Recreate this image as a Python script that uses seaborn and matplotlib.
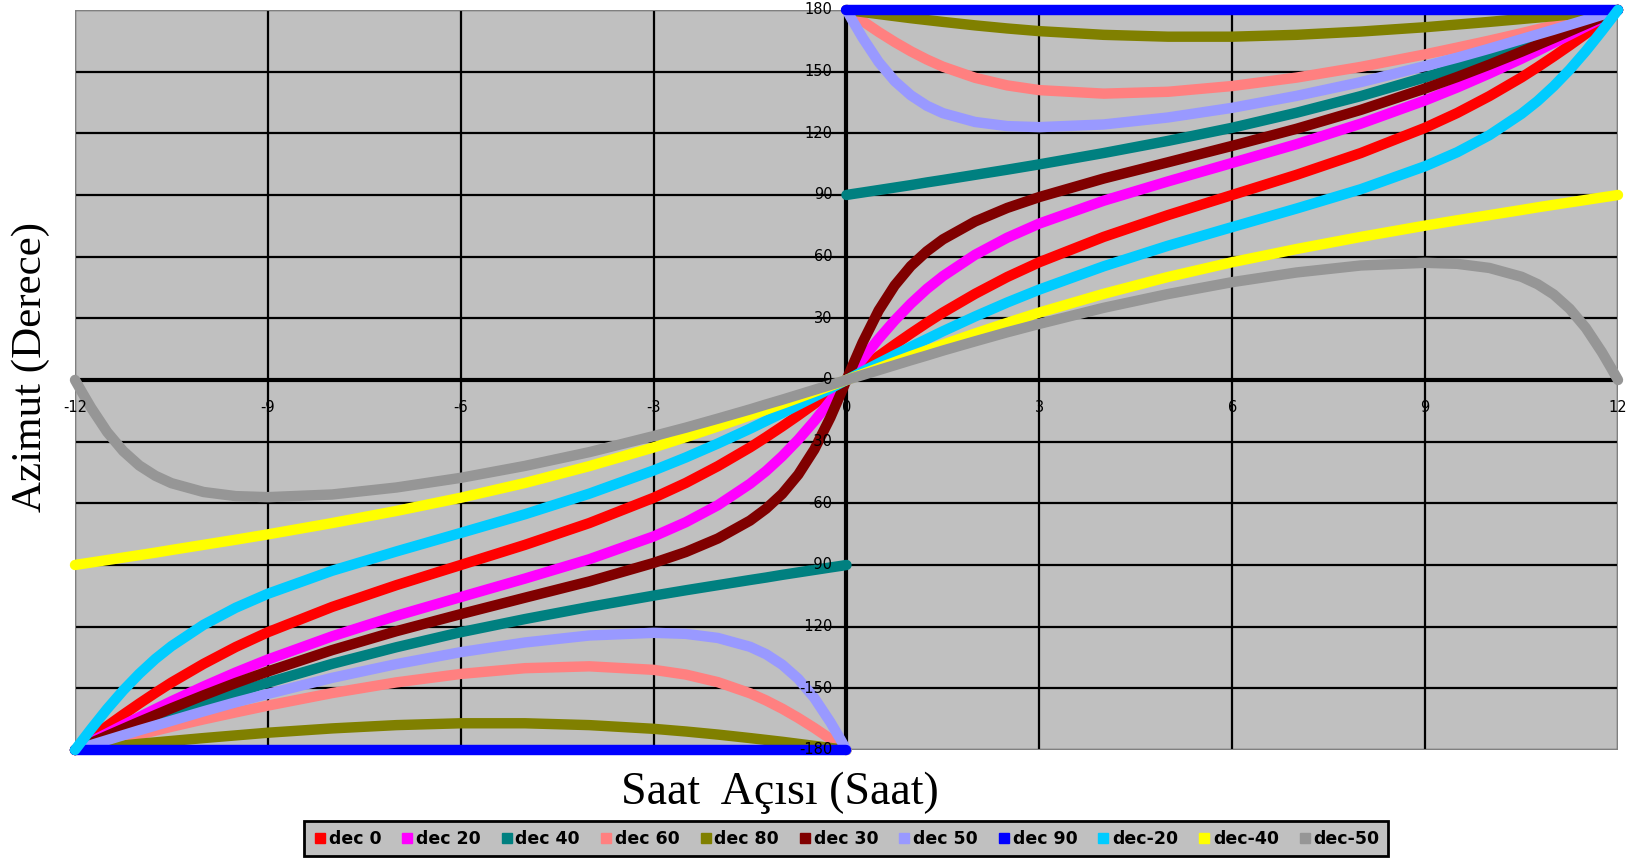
import numpy as np
import pandas as pd
import matplotlib
matplotlib.use("Agg")
import matplotlib.pyplot as plt
from matplotlib.lines import Line2D
from matplotlib.patches import Rectangle
import seaborn as sns

# saat acisi (saat) - bati / dogu yarisi
hours_west = [-12, -11.9, -11.75, -11.5, -11.25, -11, -10.75, -10.5, -10, -9.5, -9, -8, -7, -6,
              -5, -4, -3, -2.5, -2, -1.5, -1.25, -1, -0.75, -0.5, -0.25, -0.1, 0]
hours_east = [0, 0.1, 0.25, 0.5, 0.75, 1, 1.25, 1.5, 2, 2.5, 3, 4, 5, 6,
              7, 8, 9, 9.5, 10, 10.5, 10.75, 11, 11.25, 11.5, 11.75, 11.9, 12]
hours_pole_west = [-12, 0]
hours_pole_east = [0, 12]

# azimut (derece)
dec0_west = [-180, -177.7, -174.2, -168.4, -162.8, -157.4, -152.2, -147.2, -138.1, -129.9, -122.7, -110.4, -99.8, -90,
             -80.2, -69.6, -57.3, -50.1, -41.9, -32.8, -27.8, -22.6, -17.2, -11.6, -5.8, -2.3, 0]
dec0_east = [0, 2.3, 5.8, 11.6, 17.2, 22.6, 27.8, 32.8, 41.9, 50.1, 57.3, 69.6, 80.2, 90,
             99.8, 110.4, 122.7, 129.9, 138.1, 147.2, 152.2, 157.4, 162.8, 168.4, 174.2, 177.7, 180]

dec20_west = [-180, -178.4, -175.9, -171.9, -167.9, -164.0, -160.1, -156.3, -149.1, -142.3, -136.0, -124.7, -114.7, -105.6,
              -96.6, -87.2, -76.1, -69.2, -60.9, -50.5, -44.3, -37.1, -29.0, -20.0, -10.2, -4.1, 0]
dec20_east = [0, 4.1, 10.2, 20.0, 29.0, 37.1, 44.3, 50.5, 60.9, 69.2, 76.1, 87.2, 96.6, 105.6,
              114.7, 124.7, 136.0, 142.3, 149.1, 156.3, 160.1, 164.0, 167.9, 171.9, 175.9, 178.4, 180]

dec40_west = [-180, -178.8, -177.1, -174.2, -171.3, -168.4, -165.6, -162.8, -157.4, -152.2, -147.2, -138.1, -130.0, -122.7,
              -116.3, -110.4, -104.9, -102.3, -99.8, -97.3, -96.1, -94.8, -93.6, -92.4, -91.2, -90.5, -90]
dec40_east = [90, 90.5, 91.2, 92.4, 93.6, 94.8, 96.1, 97.3, 99.8, 102.3, 104.9, 110.4, 116.3, 122.7,
              130.0, 138.1, 147.2, 152.2, 157.4, 162.8, 165.6, 168.4, 171.3, 174.2, 177.1, 178.8, 180]

dec60_west = [-180, -179.2, -178.1, -176.2, -174.3, -172.4, -170.6, -168.7, -165.1, -161.7, -158.4, -152.3, -147.1, -143.0,
              -140.2, -139.3, -141.0, -143.3, -147.0, -152.4, -155.9, -159.9, -164.4, -169.3, -174.6, -177.8, -180]
dec60_east = [180, 177.8, 174.6, 169.3, 164.4, 159.9, 155.9, 152.4, 147.0, 143.3, 141.0, 139.3, 140.2, 143.0,
              147.1, 152.3, 158.4, 161.7, 165.1, 168.7, 170.6, 172.4, 174.3, 176.2, 178.1, 179.2, 180]

dec80_west = [-180, -179.7, -179.2, -178.5, -177.8, -177.0, -176.3, -175.6, -174.2, -172.9, -171.6, -169.5, -167.9, -167.0,
              -167.0, -167.9, -169.7, -171.0, -172.5, -174.2, -175.1, -176.0, -177.0, -178.0, -179.0, -179.6, -180]
dec80_east = [180, 179.6, 179.0, 178.0, 177.0, 176.0, 175.1, 174.2, 172.5, 171.0, 169.7, 167.9, 167.0, 167.0,
              167.9, 169.5, 171.6, 172.9, 174.2, 175.6, 176.3, 177.0, 177.8, 178.5, 179.2, 179.7, 180]

dec30_west = [-180, -178.6, -176.6, -173.1, -169.7, -166.3, -163.0, -159.7, -153.4, -147.4, -141.8, -131.4, -122.2, -113.9,
              -105.9, -98.0, -89.0, -83.7, -77.1, -68.4, -62.6, -55.4, -46.0, -33.8, -18.2, -7.4, 0]
dec30_east = [0, 7.4, 18.2, 33.8, 46.0, 55.4, 62.6, 68.4, 77.1, 83.7, 89.0, 98.0, 105.9, 113.9,
              122.2, 131.4, 141.8, 147.4, 153.4, 159.7, 163.0, 166.3, 169.7, 173.1, 176.6, 178.6, 180]

dec50_west = [-180, -179.0, -177.6, -175.2, -172.8, -170.4, -168.1, -165.8, -161.2, -156.8, -152.7, -144.9, -138.2, -132.4,
              -127.7, -124.3, -123.0, -123.5, -125.5, -129.8, -133.4, -138.5, -145.4, -154.7, -166.5, -174.5, -180]
dec50_east = [180, 174.5, 166.5, 154.7, 145.4, 138.5, 133.4, 129.8, 125.5, 123.5, 123.0, 124.3, 127.7, 132.4,
              138.2, 144.9, 152.7, 156.8, 161.2, 165.8, 168.1, 170.4, 172.8, 175.2, 177.6, 179.0, 180]

dec90_west = [-180, -180]
dec90_east = [180, 180]

decm20_west = [-180, -175.9, -169.8, -160.0, -151.0, -142.9, -135.7, -129.5, -119.1, -110.8, -104.0, -92.8, -83.4, -74.4,
               -65.3, -55.3, -44.0, -37.7, -30.9, -23.7, -19.9, -16.1, -12.1, -8.1, -4.1, -1.6, 0]
decm20_east = [0, 1.6, 4.1, 8.1, 12.1, 16.1, 19.9, 23.7, 30.9, 37.7, 44.0, 55.3, 65.3, 74.4,
               83.4, 92.8, 104.0, 110.8, 119.1, 129.5, 135.7, 142.9, 151.0, 160.0, 169.8, 175.9, 180]

decm40_west = [-90, -89.5, -88.8, -87.6, -86.4, -85.2, -84.0, -82.7, -80.2, -77.7, -75.1, -69.6, -63.7, -57.3,
               -50.1, -41.9, -32.8, -27.8, -22.6, -17.2, -14.4, -11.6, -8.7, -5.8, -2.9, -1.2, 0]
decm40_east = [0, 1.2, 2.9, 5.8, 8.7, 11.6, 14.4, 17.2, 22.6, 27.8, 32.8, 41.9, 50.1, 57.3,
               63.7, 69.6, 75.1, 77.7, 80.2, 82.7, 84.0, 85.2, 86.4, 87.6, 88.8, 89.5, 90]

decm50_west = [0, -5.5, -13.5, -25.3, -34.6, -41.6, -46.6, -50.2, -54.5, -56.5, -57.0, -55.7, -52.3, -47.6,
               -41.8, -35.1, -27.3, -23.2, -18.8, -14.3, -11.9, -9.6, -7.2, -4.8, -2.4, -1.0, 0]
decm50_east = [0, 1.0, 2.4, 4.8, 7.2, 9.6, 11.9, 14.3, 18.8, 23.2, 27.3, 35.1, 41.8, 47.6,
               52.3, 55.7, 57.0, 56.5, 54.5, 50.2, 46.6, 41.6, 34.6, 25.3, 13.5, 5.5, 0]

labels = ["dec 0", "dec 20", "dec 40", "dec 60", "dec 80", "dec 30",
          "dec 50", "dec 90", "dec-20", "dec-40", "dec-50"]
colors = ["#ff0000", "#ff00ff", "#008080", "#ff8080", "#808000", "#800000",
          "#9999ff", "#0000ff", "#00ccff", "#ffff00", "#969696"]

x_ticks = [-12, -9, -6, -3, 0, 3, 6, 9, 12]
y_ticks = [-180, -150, -120, -90, -60, -30, 0, 30, 60, 90, 120, 150, 180]

series = [
    (hours_west, dec0_west, hours_east, dec0_east),
    (hours_west, dec20_west, hours_east, dec20_east),
    (hours_west, dec40_west, hours_east, dec40_east),
    (hours_west, dec60_west, hours_east, dec60_east),
    (hours_west, dec80_west, hours_east, dec80_east),
    (hours_west, dec30_west, hours_east, dec30_east),
    (hours_west, dec50_west, hours_east, dec50_east),
    (hours_pole_west, dec90_west, hours_pole_east, dec90_east),
    (hours_west, decm20_west, hours_east, decm20_east),
    (hours_west, decm40_west, hours_east, decm40_east),
    (hours_west, decm50_west, hours_east, decm50_east),
]

frames = []
for lab, (hw, aw, he, ae) in zip(labels, series):
    frames.append(pd.DataFrame({"saat": hw, "azimut": aw, "seri": lab, "parca": "bati"}))
    frames.append(pd.DataFrame({"saat": he, "azimut": ae, "seri": lab, "parca": "dogu"}))
df = pd.concat(frames, ignore_index=True)

sns.set_style("white")
plt.rcParams["font.family"] = ["DejaVu Sans"]
plt.rcParams["axes.unicode_minus"] = False
plt.rcParams["text.color"] = "black"

fig = plt.figure(figsize=(16.34, 8.59), dpi=100)
ax = fig.add_axes([0.0459, 0.1269, 0.9443, 0.8615])
ax.set_facecolor("#c0c0c0")

sns.lineplot(data=df, x="saat", y="azimut", hue="seri", units="parca",
             estimator=None, sort=False, hue_order=labels,
             palette=dict(zip(labels, colors)), linewidth=7.5,
             legend=False, ax=ax)
for ln in ax.get_lines():
    ln.set_clip_on(False)
    ln.set_zorder(3)
    ln.set_solid_joinstyle("round")

ax.set_xlim(-12, 12)
ax.set_ylim(-180, 180)
ax.set_xticks(x_ticks)
ax.set_yticks(y_ticks)
ax.grid(True, color="black", linewidth=1.6)
ax.set_axisbelow(True)

ax.spines["left"].set_position(("data", 0))
ax.spines["bottom"].set_position(("data", 0))
for s in ["left", "bottom"]:
    ax.spines[s].set_linewidth(3)
    ax.spines[s].set_color("black")
    ax.spines[s].set_zorder(2.5)
ax.spines["top"].set_visible(False)
ax.spines["right"].set_visible(False)
ax.add_patch(Rectangle((0, 0), 1, 1, transform=ax.transAxes, fill=False,
                       edgecolor="#808080", linewidth=1.5, zorder=2.6))

ax.tick_params(axis="both", direction="out", length=4, width=1.5, color="black",
               labelleft=False, labelbottom=False)
ax.set_xlabel("")
ax.set_ylabel("")

# tick yazilari egrilerin ustunde
for v in y_ticks:
    ax.annotate(str(v), xy=(0, v), xytext=(-10, 0), textcoords="offset points",
                ha="right", va="center", fontsize=10.5, color="black", zorder=6,
                annotation_clip=False)
for v in x_ticks:
    ax.annotate(str(v), xy=(v, 0), xytext=(0, -20), textcoords="offset points",
                ha="center", va="center", fontsize=10.5, color="black", zorder=6,
                annotation_clip=False)

fig.text(0.019, 0.573, "Azimut (Derece)", rotation=90, ha="center", va="center",
         family="Liberation Serif", fontsize=31, color="black")
fig.text(0.477, 0.077, "Saat  Açısı (Saat)", ha="center", va="center",
         family="Liberation Serif", fontsize=33, color="black")

handles = [Line2D([], [], marker="s", linestyle="", color=c, markersize=7)
           for c in colors]
leg = fig.legend(handles, labels, loc="center", bbox_to_anchor=(0.518, 0.0235),
                 ncol=11, frameon=True, fancybox=False, framealpha=1,
                 facecolor="#c0c0c0", edgecolor="black",
                 prop={"size": 12.5, "weight": "bold"},
                 handletextpad=0.1, columnspacing=1.1, borderpad=0.5,
                 handlelength=0.8)
leg.get_frame().set_linewidth(2)
for t in leg.get_texts():
    t.set_color("black")

fig.savefig("out.png", dpi=100, facecolor="white")
